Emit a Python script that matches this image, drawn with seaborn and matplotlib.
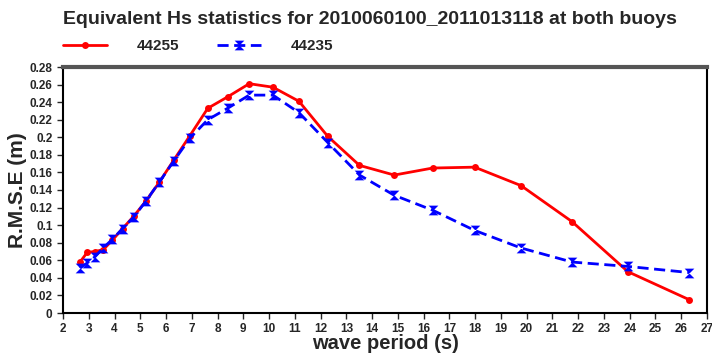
import matplotlib
matplotlib.use("Agg")
import matplotlib.pyplot as plt
import pandas as pd
import seaborn as sns

# wave period (s) bins
periods = [2.66, 2.94, 3.24, 3.56, 3.92, 4.31, 4.74, 5.21, 5.74, 6.30, 6.93, 7.62, 8.39,
           9.23, 10.15, 11.16, 12.28, 13.51, 14.86, 16.35, 17.98, 19.78, 21.76, 23.93, 26.32]
# RMSE (m) per buoy
rmse_44255 = [0.058, 0.069, 0.070, 0.072, 0.083, 0.096, 0.110, 0.127, 0.149, 0.174, 0.202, 0.233, 0.246,
              0.261, 0.257, 0.241, 0.201, 0.168, 0.157, 0.165, 0.166, 0.145, 0.104, 0.047, 0.015]
rmse_44235 = [0.051, 0.057, 0.064, 0.074, 0.084, 0.096, 0.109, 0.127, 0.149, 0.173, 0.199, 0.220, 0.233,
              0.248, 0.248, 0.228, 0.194, 0.157, 0.134, 0.117, 0.094, 0.074, 0.058, 0.053, 0.046]
buoys = ["44255", "44235"]

df = pd.concat([
    pd.DataFrame({"period": periods, "rmse": rmse_44255, "buoy": buoys[0]}),
    pd.DataFrame({"period": periods, "rmse": rmse_44235, "buoy": buoys[1]}),
])

sns.set_style("ticks")
plt.rcParams["font.family"] = ["Liberation Sans", "DejaVu Sans"]

fig = plt.figure(figsize=(7.12, 3.53), dpi=100)
ax = fig.add_axes([63 / 712, 1 - 313 / 353, 644 / 712, 246 / 353])

# vertical hourglass marker for the dashed series
hourglass = [(-1, 1), (1, 1), (-1, -1), (1, -1), (-1, 1)]
sns.lineplot(data=df, x="period", y="rmse", hue="buoy", style="buoy",
             palette={"44255": "red", "44235": "blue"},
             dashes={"44255": "", "44235": (4, 2)},
             markers={"44255": "o", "44235": hourglass},
             markersize=5, markeredgewidth=0, linewidth=2, ax=ax)

for line in ax.lines:
    if line.get_color() == "blue":
        line.set_markersize(7)

ax.set_xlim(2, 27)
ax.set_ylim(0, 0.28)
ax.set_xticks(range(2, 28))
ax.set_yticks([i * 0.02 for i in range(15)])
ax.set_yticklabels(["0"] + ["%g" % round(i * 0.02, 2) for i in range(1, 15)])
ax.tick_params(labelsize=8.5, length=4, width=1)
for lab in ax.get_xticklabels() + ax.get_yticklabels():
    lab.set_fontweight("bold")

for side in ["left", "bottom", "right"]:
    ax.spines[side].set_linewidth(1.5)
    ax.spines[side].set_color("black")
ax.spines["top"].set_linewidth(3)
ax.spines["top"].set_color("#555555")

ax.set_xlabel("wave period (s)", fontsize=14.5, fontweight="bold", labelpad=-1)
ax.set_ylabel("R.M.S.E (m)", fontsize=15, fontweight="bold", labelpad=2)

fig.text(63 / 712, 1 - 20 / 353, "Equivalent Hs statistics for 2010060100_2011013118 at both buoys",
         fontsize=14, fontweight="bold", va="center", ha="left")

handles, labels = ax.get_legend_handles_labels()
for h in handles:
    if h.get_color() == "blue":
        h.set_markersize(7)
ax.legend(handles, labels, loc="center left", bbox_to_anchor=(0, 1 + 21 / 246), ncol=2,
          frameon=False, handlelength=2.9, handletextpad=1.9, columnspacing=2.5,
          borderaxespad=0, borderpad=0, prop={"weight": "bold", "size": 11})

fig.savefig("out.png", dpi=100)
